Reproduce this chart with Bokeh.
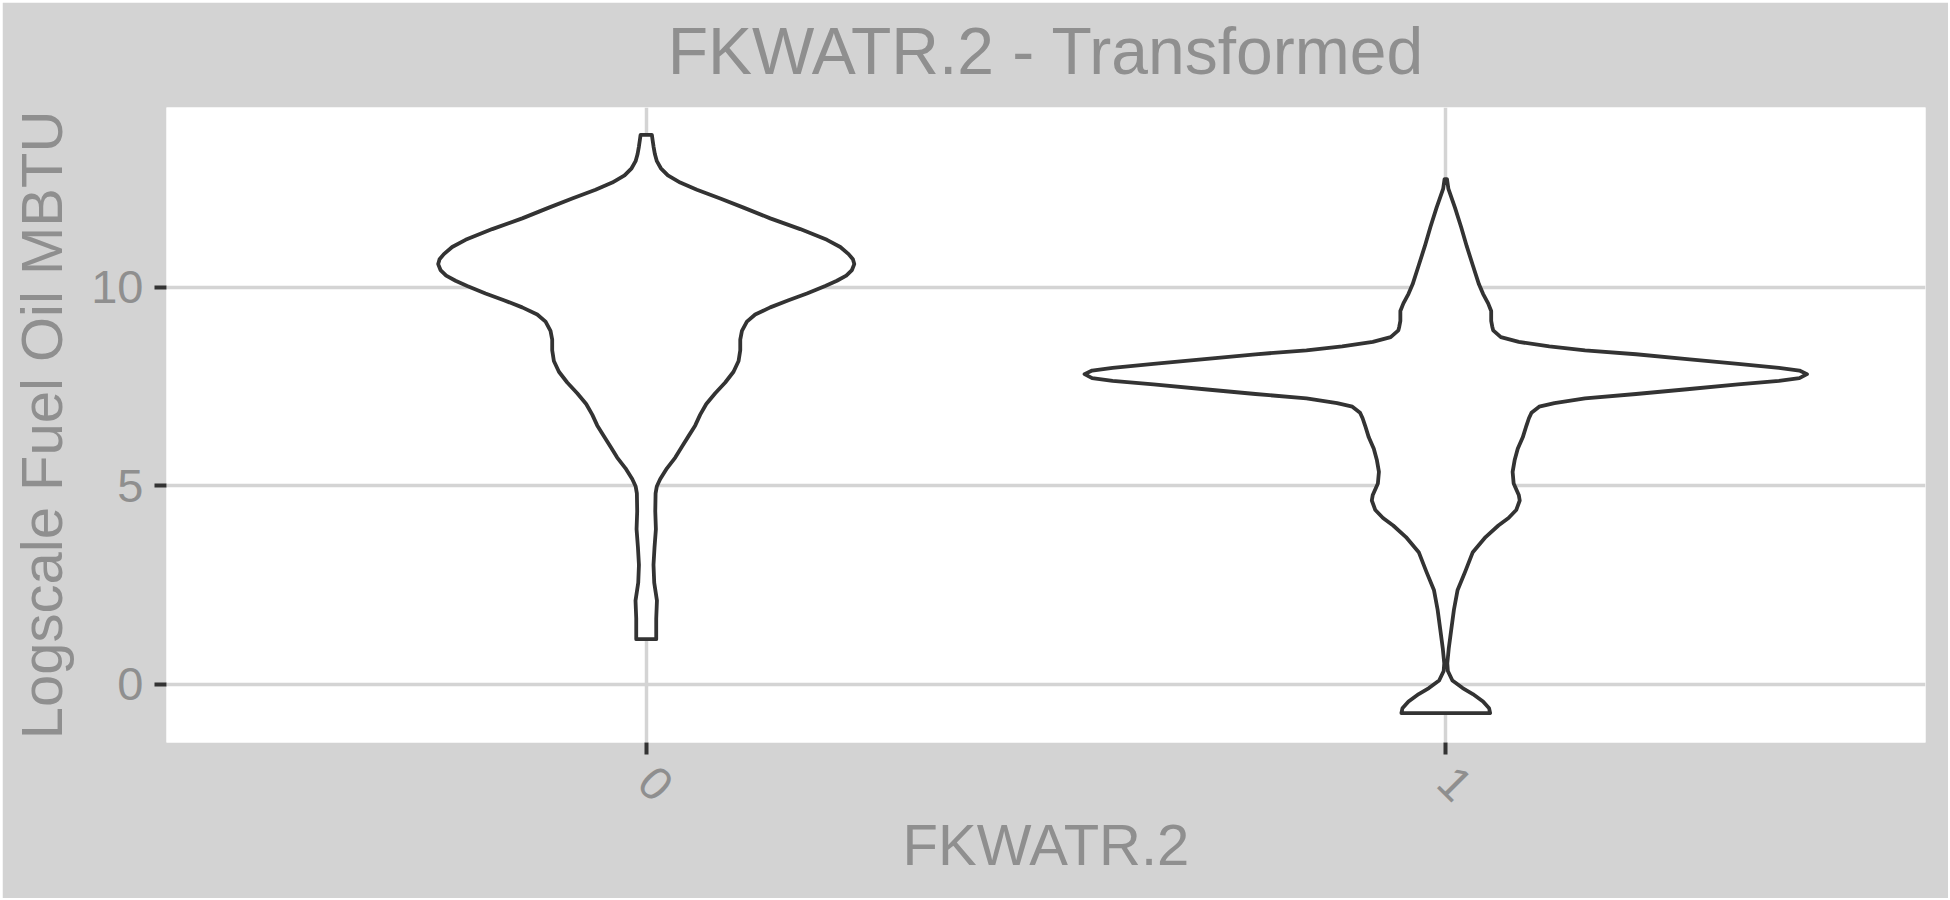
import math
from bokeh.plotting import figure
from bokeh.models import FixedTicker, Range1d, LinearAxis
from bokeh.embed import file_html
from bokeh.resources import INLINE

# ---- data ----
categories = ["0", "1"]
y_ticks = [0, 5, 10]
title_text = "FKWATR.2 - Transformed"

# violin for FKWATR.2 = 0 : y value and half-width (in category units)
v0_y = [13.83, 13.71, 13.53, 13.35, 13.17, 12.99, 12.81, 12.63, 12.45, 12.23,
        12.00, 11.73, 11.46, 11.19, 11.01, 10.83, 10.70, 10.58, 10.43, 10.29,
        10.16, 10.03, 9.84, 9.67, 9.49, 9.31, 9.13, 8.90, 8.68, 8.41,
        8.14, 7.87, 7.60, 7.33, 7.06, 6.79, 6.52, 6.25, 5.98, 5.71,
        5.44, 5.17, 4.99, 4.81, 4.36, 3.91, 3.46, 3.01, 2.56, 2.11,
        1.66, 1.14]
v0_w = [0.0071, 0.0079, 0.0092, 0.0108, 0.0133, 0.0183, 0.0271, 0.0425, 0.0634, 0.0926,
        0.1217, 0.1551, 0.1926, 0.2260, 0.2427, 0.2531, 0.2585, 0.2602, 0.2573, 0.2502,
        0.2385, 0.2239, 0.2010, 0.1780, 0.1551, 0.1363, 0.1259, 0.1197, 0.1176, 0.1176,
        0.1155, 0.1092, 0.0988, 0.0863, 0.0751, 0.0675, 0.0613, 0.0529, 0.0446, 0.0363,
        0.0259, 0.0175, 0.0133, 0.0117, 0.0113, 0.0121, 0.0104, 0.0091, 0.0100, 0.0134,
        0.0125, 0.0125]

# violin for FKWATR.2 = 1
v1_y = [12.72, 12.48, 12.00, 11.52, 11.03, 10.55, 10.07, 9.83, 9.59, 9.40,
        9.15, 9.01, 8.91, 8.74, 8.62, 8.51, 8.41, 8.31, 8.19, 8.07,
        7.97, 7.90, 7.81, 7.71, 7.64, 7.55, 7.43, 7.31, 7.20, 7.08,
        6.99, 6.84, 6.70, 6.51, 6.22, 5.93, 5.64, 5.35, 5.06, 4.77,
        4.63, 4.39, 4.19, 4.00, 3.71, 3.33, 2.84, 2.37, 1.88, 1.40,
        0.92, 0.53, 0.34, 0.10, -0.09, -0.24, -0.43, -0.60, -0.72]
v1_w = [0.0015, 0.0032, 0.0115, 0.0191, 0.0262, 0.0338, 0.0415, 0.0466, 0.0530, 0.0568,
        0.0568, 0.0581, 0.0593, 0.0689, 0.0913, 0.1295, 0.1742, 0.2380, 0.3018, 0.3656,
        0.4167, 0.4423, 0.4518, 0.4423, 0.4167, 0.3656, 0.3018, 0.2380, 0.1742, 0.1359,
        0.1168, 0.1072, 0.1040, 0.1008, 0.0963, 0.0900, 0.0861, 0.0836, 0.0849, 0.0913,
        0.0925, 0.0881, 0.0785, 0.0658, 0.0498, 0.0338, 0.0243, 0.0147, 0.0102, 0.0070,
        0.0038, 0.0019, 0.0026, 0.0083, 0.0211, 0.0338, 0.0466, 0.0542, 0.0555]

violins = [(v0_y, v0_w), (v1_y, v1_w)]

TEXT = "#8f8f8f"
BG = "#d3d3d3"
FONT = "Liberation Sans"

p = figure(frame_width=1759, frame_height=635,
           x_range=Range1d(0.4, 2.6), y_range=Range1d(-1.46, 14.52),
           output_backend="svg", toolbar_location=None,
           min_border_left=164, min_border_right=23,
           min_border_top=105, min_border_bottom=156,
           margin=(2, 2, 2, 2))

p.background_fill_color = "white"
p.border_fill_color = BG
p.outline_line_color = None

for i, (ys, ws) in enumerate(violins):
    pos = i + 1
    xs = [pos + w for w in ws] + [pos - w for w in reversed(ws)]
    yy = list(ys) + list(reversed(ys))
    p.patch(xs, yy, fill_color="white", line_color="#333333",
            line_width=3.8, line_join="round")

bottom = p.below[0]
left = p.left[0]

# axes
bottom.ticker = FixedTicker(ticks=[i + 1 for i in range(len(categories))])
bottom.major_label_overrides = {i + 1: c for i, c in enumerate(categories)}
left.ticker = FixedTicker(ticks=y_ticks)

for ax in (bottom, left):
    ax.axis_line_color = None
    ax.minor_tick_line_color = None
    ax.major_tick_line_color = "#333333"
    ax.major_tick_line_width = 4
    ax.major_tick_in = 0
    ax.major_tick_out = 12
    ax.major_label_text_font = FONT
    ax.major_label_text_font_size = "47px"
    ax.major_label_text_color = TEXT
    ax.axis_label_text_font = FONT
    ax.axis_label_text_font_size = "58px"
    ax.axis_label_text_font_style = "normal"
    ax.axis_label_text_color = TEXT

bottom.axis_label = "FKWATR.2"
left.axis_label = "Logscale Fuel Oil MBTU"
bottom.major_label_orientation = -math.pi / 4
bottom.major_label_standoff = 20
left.major_label_standoff = 11
bottom.axis_label_standoff = -7
left.axis_label_standoff = 14

# title: label of a tick-less axis above the panel (centred on the panel)
top = LinearAxis(ticker=FixedTicker(ticks=[]), axis_label=title_text)
top.axis_line_color = None
top.major_tick_line_color = None
top.minor_tick_line_color = None
top.major_tick_out = 0
top.major_tick_in = 0
top.major_label_standoff = 0
top.major_label_text_font_size = "0px"
top.axis_label_text_font = FONT
top.axis_label_text_font_size = "66px"
top.axis_label_text_font_style = "normal"
top.axis_label_text_color = TEXT
top.axis_label_standoff = 20
p.add_layout(top, "above")

p.xgrid.grid_line_color = "#d4d4d4"
p.ygrid.grid_line_color = "#d4d4d4"
p.xgrid.grid_line_width = 3.5
p.ygrid.grid_line_width = 3.5

open("out.html", "w").write(file_html(p, INLINE))
